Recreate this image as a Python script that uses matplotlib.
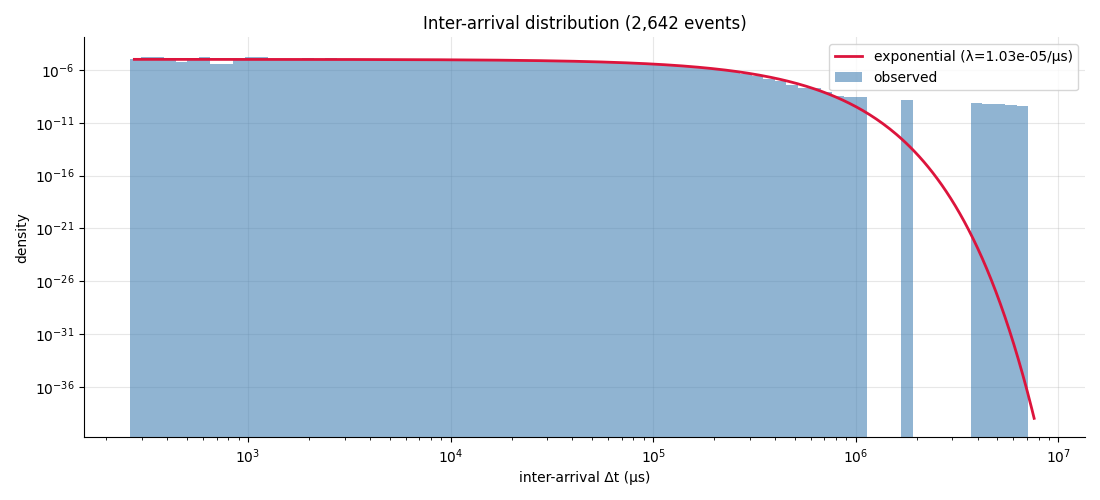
import numpy as np
import matplotlib
matplotlib.use("Agg")
from matplotlib import pyplot as plt

# Inter-arrival histogram
N_EVENTS = 2642
LAM = 1.03e-05          # fitted rate, per microsecond
DT_MIN = 260.6          # first bin edge (us)
DT_MAX = 7.1e6          # last bin edge (us)
N_BINS = 78

# counts per log-spaced bin (bin 0 .. bin 77)
counts = [
    1, 2, 2, 2, 1, 2, 4, 1, 1, 3,
    6, 7, 5, 6, 7, 10, 8, 13, 11, 12,
    15, 16, 19, 20, 24, 27, 29, 34, 38, 41,
    48, 52, 59, 64, 72, 78, 86, 92, 100, 106,
    115, 120, 123, 128, 127, 125, 121, 116, 107, 97,
    84, 70, 52, 45, 29, 18, 15, 6, 4, 4,
    2, 1, 1, 1, 0, 0, 0, 1, 0, 0,
    0, 0, 0, 1, 1, 1, 1, 1,
]

# range of the fitted curve
CURVE_MIN = 275
CURVE_MAX = 7.6e6

edges = np.logspace(np.log10(DT_MIN), np.log10(DT_MAX), N_BINS + 1)
centers = np.sqrt(edges[:-1] * edges[1:])

fig = plt.figure(figsize=(11, 5), dpi=100)
ax = fig.add_subplot(111)
fig.subplots_adjust(left=0.0764, right=0.9864, bottom=0.1254, top=0.9254)

_, _, bars = ax.hist(centers, bins=edges, weights=counts, density=True,
                     color="steelblue", alpha=0.6, label="observed")

t = np.logspace(np.log10(CURVE_MIN), np.log10(CURVE_MAX), 400)
line, = ax.plot(t, LAM * np.exp(-LAM * t), color="crimson", lw=2,
                label=f"exponential (\u03bb={LAM:.2e}/\u03bcs)")

ax.set_xscale("log")
ax.set_yscale("log")
ax.set_xlim(10 ** 2.191, 10 ** 7.132)
ax.set_ylim(10 ** -40.78, 10 ** -2.9)

ax.grid(True, color="#b0b0b0", alpha=0.3, linewidth=0.8)
ax.set_axisbelow(True)
ax.spines["top"].set_visible(False)
ax.spines["right"].set_visible(False)

ax.set_title(f"Inter-arrival distribution ({N_EVENTS:,} events)")
ax.set_xlabel("inter-arrival \u0394t (\u03bcs)")
ax.set_ylabel("density")
ax.legend(handles=[line, bars[0]], labels=[line.get_label(), "observed"],
          loc="upper right")

fig.savefig("out.png")
